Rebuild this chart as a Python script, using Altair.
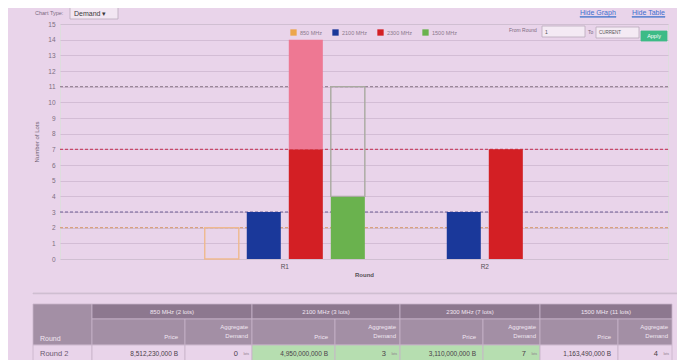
import altair as alt
import pandas as pd

# ---------------- data ----------------
bands = ["850 MHz", "2100 MHz", "2300 MHz", "1500 MHz"]
band_lots = [2, 3, 7, 11]
band_colors = ["#eca64c", "#1a389a", "#d31f24", "#6ab24e"]
supply_line_colors = ["#d9a27e", "#6f5f95", "#c8486a", "#9a8799"]
unsold_colors = ["#efb98e", "#6f5f95", "#c4506a", "#a9aaa0"]

seg_round = ["R1", "R1", "R1", "R1", "R1", "R1", "R2", "R2"]
seg_band = ["850 MHz", "2100 MHz", "2300 MHz", "2300 MHz", "1500 MHz", "1500 MHz", "2100 MHz", "2300 MHz"]
seg_kind = ["unsold", "sold", "sold", "excess", "sold", "unsold", "sold", "sold"]
seg_lots = [2, 3, 7, 7, 4, 7, 3, 7]

rounds = ["R1", "R2"]

table_groups = ["850 MHz (2 lots)", "2100 MHz (3 lots)", "2300 MHz (7 lots)", "1500 MHz (11 lots)"]
row_label = "Round 2"
row_prices = ["8,512,230,000 B", "4,950,000,000 B", "3,110,000,000 B", "1,163,490,000 B"]
row_demand = ["0", "3", "7", "4"]
row_highlight = [False, True, True, False]

# ---------------- layout constants (page pixels) ----------------
OX, OY = 60, 24          # plot origin on the page
W, H = 608, 235
BG = "#e9d4ea"
FONT = "Liberation Sans"

seg = pd.DataFrame({"round": seg_round, "band": seg_band, "kind": seg_kind, "lots": seg_lots})
seg["end"] = seg.groupby(["round", "band"])["lots"].cumsum()
seg["start"] = seg["end"] - seg["lots"]
seg["ucol"] = seg["band"].map(dict(zip(bands, unsold_colors)))

x_enc = alt.X("round:N", scale=alt.Scale(domain=rounds, paddingInner=0, paddingOuter=0.52, align=0.6),
              axis=alt.Axis(title="Round", labelAngle=0, labelFontSize=6.5, labelColor="#555055",
                            labelPadding=4, ticks=False, domain=False, titleFontSize=6,
                            titleColor="#555055", titlePadding=2, titleFontWeight="bold"))
xo_enc = alt.XOffset("band:N", scale=alt.Scale(domain=bands, paddingInner=0.19, paddingOuter=0.475))
y_axis = alt.Axis(values=list(range(16)), labelFontSize=6.5, labelColor="#7d6e80", labelOverlap=False,
                  domain=False, ticks=False, labelPadding=5, gridColor="#cdb7cf",
                  gridWidth=0.8, title="Number of Lots", titleFontSize=6,
                  titleColor="#6d5d70", titleFontWeight="normal", titlePadding=8)
y_scale = alt.Scale(domain=[0, 15], nice=False)
y_enc = alt.Y("start:Q", scale=y_scale, axis=y_axis)

base = alt.Chart(seg)

sold = base.transform_filter("datum.kind == 'sold'").mark_bar().encode(
    x=x_enc, xOffset=xo_enc, y=y_enc, y2="end:Q",
    color=alt.Color("band:N", scale=alt.Scale(domain=bands, range=band_colors),
                    legend=alt.Legend(title=None, orient="none", legendX=230, legendY=5,
                                      direction="horizontal", symbolType="square", symbolSize=40,
                                      symbolStrokeWidth=0, labelFontSize=5.5, labelColor="#8a7a8c",
                                      columnPadding=9, labelOffset=3)))

excess = base.transform_filter("datum.kind == 'excess'").mark_bar(color="#ee7893").encode(
    x=x_enc, xOffset=xo_enc, y=y_enc, y2="end:Q")

unsold = base.transform_filter("datum.kind == 'unsold'").mark_bar(
    fillOpacity=0, strokeWidth=1.4).encode(
    x=x_enc, xOffset=xo_enc, y=y_enc, y2="end:Q",
    stroke=alt.Stroke("ucol:N", scale=None))

supply = pd.DataFrame({"band": bands, "lots": band_lots, "lcol": supply_line_colors})
rules = alt.Chart(supply).mark_rule(strokeDash=[3, 2], strokeWidth=1.1).encode(
    y=alt.Y("lots:Q", scale=y_scale, axis=y_axis),
    stroke=alt.Stroke("lcol:N", scale=None))


# ---------------- decorations & table (page coordinates) ----------------
def rects(rows):
    df = pd.DataFrame(rows, columns=["x0", "x1", "y0", "y1", "fill", "stroke"])
    df[["x0", "x1"]] -= OX
    df[["y0", "y1"]] -= OY
    return alt.Chart(df).mark_rect(strokeWidth=0.8).encode(
        x=alt.X("x0:Q", scale=None), x2="x1:Q",
        y=alt.Y("y0:Q", scale=None), y2="y1:Q",
        fill=alt.Fill("fill:N", scale=None), stroke=alt.Stroke("stroke:N", scale=None))


def texts(rows, align, weight="normal"):
    df = pd.DataFrame(rows, columns=["x", "y", "t", "size", "col"])
    df["x"] -= OX
    df["y"] -= OY
    return alt.Chart(df).mark_text(align=align, baseline="middle", font=FONT, fontWeight=weight).encode(
        x=alt.X("x:Q", scale=None), y=alt.Y("y:Q", scale=None), text="t:N",
        size=alt.Size("size:Q", scale=None), fill=alt.Fill("col:N", scale=None))


HDR1, HDR2, LINE = "#8d788f", "#a38fa5", "#c7b3c9"
GREEN = "#b6deb0"
grp_edges = [92, 252, 400, 540, 672]
sub_edges = [185, 335, 483, 618]

cells = [
    (33, 92, 304, 345, HDR2, LINE),
]
for i in range(4):
    cells.append((grp_edges[i], grp_edges[i + 1], 304, 319, HDR1, LINE))
    cells.append((grp_edges[i], sub_edges[i], 319, 345, HDR2, LINE))
    cells.append((sub_edges[i], grp_edges[i + 1], 319, 345, HDR2, LINE))
cells.append((33, 92, 345, 362, BG, LINE))
for i in range(4):
    f = GREEN if row_highlight[i] else BG
    cells.append((grp_edges[i], sub_edges[i], 345, 362, f, LINE))
    cells.append((sub_edges[i], grp_edges[i + 1], 345, 362, f, LINE))
# top widgets
cells += [
    (33, 685, 293, 293.8, "#cdbccf", "#cdbccf"),
    (70, 118, 2, 19, "#f2e6f2", "#b9a9bb"),
    (542, 585, 26, 37, "#f4eaf4", "#b9a9bb"),
    (596, 639, 27, 38, "#f4eaf4", "#b9a9bb"),
    (641, 667, 31, 41, "#3dbb86", "#3dbb86"),
    (580, 616, 16.5, 17.2, "#5a82d0", "#5a82d0"),
    (632, 665, 16.5, 17.2, "#5a82d0", "#5a82d0"),
]

HTXT = "#f1e6f1"
left_txt = [
    (35, 13, "Chart Type:", 5.5, "#7b6b80"),
    (74, 13.5, "Demand \u25be", 7, "#3a3a3a"),
    (580, 13, "Hide Graph", 7, "#3b6fd0"),
    (632, 13, "Hide Table", 7, "#3b6fd0"),
    (509, 30, "From Round", 5, "#7b6b80"),
    (545, 31.5, "1", 5, "#555"),
    (588, 32, "To", 5, "#7b6b80"),
    (599, 32.5, "CURRENT", 4.5, "#555"),
    (40, 339, "Round", 7, HTXT),
    (40, 354, row_label, 7.5, "#6a5a70"),
]
center_txt = [(654, 36, "Apply", 5.5, "#ffffff")]
for i in range(4):
    center_txt.append(((grp_edges[i] + grp_edges[i + 1]) / 2, 311.5, table_groups[i], 6, HTXT))
right_txt = []
for i in range(4):
    right_txt.append((sub_edges[i] - 7, 337, "Price", 6, HTXT))
    right_txt.append((grp_edges[i + 1] - 4, 327, "Aggregate", 6, HTXT))
    right_txt.append((grp_edges[i + 1] - 4, 336, "Demand", 6, HTXT))
    right_txt.append((sub_edges[i] - 7, 353.5, row_prices[i], 6.5, "#4a4048"))
    right_txt.append((grp_edges[i + 1] - 14, 353.5, row_demand[i], 7.5, "#4a4048"))
    right_txt.append((grp_edges[i + 1] - 3, 354, "lots", 3.5, "#8a7a8c"))

chart = alt.layer(
    rules, sold, excess, unsold,
    rects(cells), texts(left_txt, "left"), texts(center_txt, "center"), texts(right_txt, "right"),
).properties(
    width=W, height=H, background=BG,
    padding={"left": OX - 8, "top": OY - 8, "right": 9, "bottom": 352 - (OY - 8) - H},
    autosize=alt.AutoSizeParams(type="none"),
).configure_view(stroke=None).configure(font=FONT)

chart.save("out.html", embed_options={"renderer": "svg", "actions": False})
